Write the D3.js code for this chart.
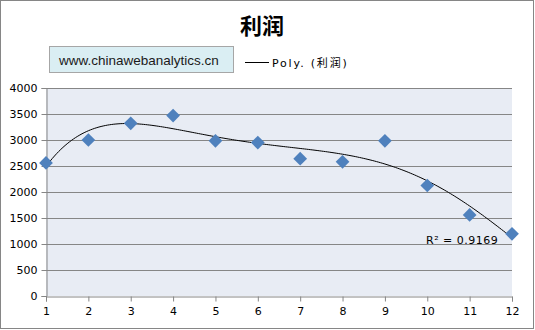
<!DOCTYPE html>
<html>
<head>
<meta charset="utf-8">
<script src="https://cdn.jsdelivr.net/npm/d3@7"></script>
<style>
  body { margin: 0; background: #fff; }
  text { font-family: "DejaVu Sans", "Noto Sans CJK SC", sans-serif; }
</style>
</head>
<body>
<div id="chart"></div>
<script>
const months = [1, 2, 3, 4, 5, 6, 7, 8, 9, 10, 11, 12];
const profit = [2560, 3000, 3320, 3470, 2985, 2950, 2640, 2580, 2985, 2125, 1560, 1195];
const yTicks = [0, 500, 1000, 1500, 2000, 2500, 3000, 3500, 4000];
const chartTitle = "利润";
const watermark = "www.chinawebanalytics.cn";
const trendLabel = "Poly. (利润)";
const rSquaredText = "R² = 0.9169";
const trendOrder = 5;

const width = 535, height = 330;
const margin = { top: 88, right: 23, bottom: 34, left: 46 };

// least squares polynomial fit (like the excel trendline), x scaled for stability
function polyFit(xs, ys, order) {
    const sx = x => (x - 6.5) / 5.5;
    const n = order + 1;
    const A = Array.from({ length: n }, () => new Array(n + 1).fill(0));
    xs.forEach((x, k) => {
        const t = sx(x);
        for (let i = 0; i < n; i++) {
            for (let j = 0; j < n; j++) A[i][j] += Math.pow(t, i + j);
            A[i][n] += Math.pow(t, i) * ys[k];
        }
    });
    for (let c = 0; c < n; c++) {
        let p = c;
        for (let r = c + 1; r < n; r++) if (Math.abs(A[r][c]) > Math.abs(A[p][c])) p = r;
        [A[c], A[p]] = [A[p], A[c]];
        for (let r = 0; r < n; r++) {
            if (r === c) continue;
            const f = A[r][c] / A[c][c];
            for (let j = c; j <= n; j++) A[r][j] -= f * A[c][j];
        }
    }
    const coef = A.map((row, i) => row[n] / row[i]);
    return x => coef.reduce((s, a, i) => s + a * Math.pow(sx(x), i), 0);
}

const svg = d3.select("#chart").append("svg")
    .attr("width", width).attr("height", height);

svg.append("rect")
    .attr("x", 0.5).attr("y", 0.5)
    .attr("width", width - 2).attr("height", height - 2)
    .attr("fill", "#fff").attr("stroke", "#868686");

const x = d3.scaleLinear().domain([1, 12]).range([margin.left, width - margin.right]);
const y = d3.scaleLinear().domain([0, 4000]).range([height - margin.bottom, margin.top]);

svg.append("text")
    .attr("x", 262).attr("y", 34)
    .attr("text-anchor", "middle")
    .style("font-family", "'Noto Sans CJK SC'")
    .style("font-size", "22px").style("font-weight", "bold")
    .text(chartTitle);

// watermark box + legend
svg.append("rect")
    .attr("x", 49.5).attr("y", 46.5).attr("width", 184).attr("height", 26)
    .attr("fill", "#DAEEF3").attr("stroke", "#A6A6A6");
svg.append("text")
    .attr("x", 59).attr("y", 65)
    .style("font-family", "'Liberation Sans', Arial, sans-serif")
    .style("font-size", "13.5px").attr("fill", "#1a1a1a")
    .text(watermark);
svg.append("line")
    .attr("x1", 245).attr("x2", 269).attr("y1", 62.5).attr("y2", 62.5)
    .attr("stroke", "#000");
svg.append("text")
    .attr("x", 272).attr("y", 67)
    .style("font-size", "11px").style("letter-spacing", "1.8px")
    .text(trendLabel);

svg.append("rect")
    .attr("x", x(1)).attr("y", y(4000))
    .attr("width", x(12) - x(1)).attr("height", y(0) - y(4000))
    .attr("fill", "#E8ECF4");

svg.append("g")
    .selectAll("line")
    .data(yTicks.filter(d => d > 0))
    .join("line")
    .attr("x1", x(1)).attr("x2", x(12))
    .attr("y1", d => Math.round(y(d)) + 0.5).attr("y2", d => Math.round(y(d)) + 0.5)
    .attr("stroke", "#868686");

const yAxis = svg.append("g")
    .attr("transform", `translate(${Math.round(x(1)) + 0.5},0)`)
    .call(d3.axisLeft(y).tickValues(yTicks).tickFormat(d3.format("d")).tickSize(5).tickPadding(4));
const xAxis = svg.append("g")
    .attr("transform", `translate(0,${Math.round(y(0)) + 0.5})`)
    .call(d3.axisBottom(x).tickValues(months).tickSize(5).tickPadding(6));
[yAxis, xAxis].forEach(g => {
    g.select(".domain").attr("stroke", "#868686");
    g.selectAll(".tick line").attr("stroke", "#868686");
    g.selectAll(".tick text").attr("fill", "#000").style("font-size", "11px");
});

const trend = polyFit(months, profit, trendOrder);
svg.append("path")
    .datum(d3.range(1, 12.001, 0.05))
    .attr("fill", "none").attr("stroke", "#000").attr("stroke-width", 1)
    .attr("d", d3.line().x(d => x(d)).y(d => y(trend(d))));

svg.selectAll(".pt")
    .data(months)
    .join("path")
    .attr("class", "pt")
    .attr("transform", (d, i) => `translate(${x(d)},${y(profit[i])})`)
    .attr("d", d3.symbol(d3.symbolDiamond2, 120))
    .attr("fill", "#4F81BD");

svg.append("text")
    .attr("x", 426).attr("y", 244)
    .style("font-size", "11px").style("letter-spacing", "0.5px")
    .text(rSquaredText);
</script>
</body>
</html>
